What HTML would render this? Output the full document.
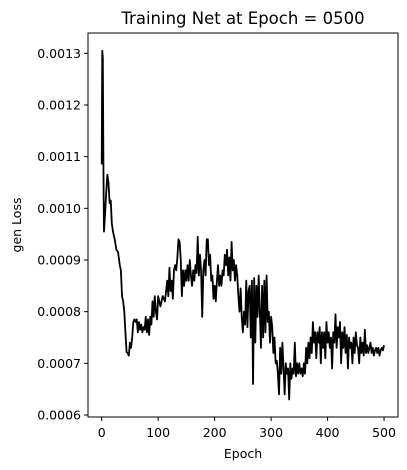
<!DOCTYPE html>
<html><head><meta charset="utf-8">
<style>
html,body{margin:0;padding:0;background:#fff;}
svg{display:block;font-family:"DejaVu Sans","Liberation Sans",sans-serif;}
</style></head>
<body>
<svg id="chart" width="407" height="470" viewBox="0 0 407 470">
<text x="243" y="24" text-anchor="middle" font-size="16.5">Training Net at Epoch = 0500</text>
<g id="ticks"></g>
<path id="line" fill="none" stroke="#000" stroke-width="1.8" stroke-linejoin="round"></path>
<rect x="88" y="33" width="310" height="384" fill="none" stroke="#000" stroke-width="1"></rect>
<text x="243" y="458" text-anchor="middle" font-size="12.5">Epoch</text>
<text transform="translate(21,225) rotate(-90)" text-anchor="middle" font-size="12.5">gen Loss</text>
</svg>
<script>
const epochs=[0,1,2,3,4,6,8,10,12,14,16,18,20,23,26,29,32,34,36,38,40,42,44,46,48,50,52,54,56,58,60,62,64,66,68,70,72,74,76,78,80,82,84,86,88,90,92,94,96,98,100,104,108,112,116,118,120,122,124,126,128,130,132,134,136,138,140,142,144,146,148,150,152,154,156,158,160,162,164,166,168,170,172,174,176,178,180,182,184,186,188,190,192,194,196,198,200,202,204,206,208,210,212,214,216,218,220,222,224,226,228,230,232,234,236,238,240,242,244,246,248,250,252,254,256,258,260,262,264,266,268,270,272,274,276,278,280,282,284,286,288,290,292,294,296,298,300,302,304,306,308,310,312,314,316,318,320,322,324,326,328,330,332,334,336,338,340,342,344,346,348,350,352,354,356,358,360,362,364,366,368,370,372,374,376,378,380,382,384,386,388,390,392,394,396,398,400,402,404,406,408,410,412,414,416,418,420,422,424,426,428,430,432,434,436,438,440,442,444,446,448,450,452,454,456,458,460,462,464,466,468,470,472,474,476,478,480,482,484,486,488,490,492,494,496,498,500];
const lossE4=[10.85,13.05,12.9,10.9,9.55,9.9,10.3,10.65,10.5,10.1,10.15,9.7,9.55,9.4,9.2,9.15,8.9,8.8,8.3,8.2,8.0,7.6,7.22,7.2,7.15,7.4,7.3,7.5,7.8,7.85,7.8,7.85,7.6,7.8,7.65,7.75,7.6,7.7,7.65,7.9,7.6,7.85,7.55,7.9,7.75,8.2,7.9,8.3,8.0,7.85,8.3,8.1,8.3,8.2,8.6,8.3,8.85,8.4,8.6,8.25,8.8,8.9,8.8,9.05,9.4,9.35,9.0,8.3,8.8,8.5,8.8,8.6,8.9,8.6,9.0,8.7,8.5,8.8,8.6,8.9,8.75,9.45,8.7,9.1,8.8,7.9,8.8,9.0,8.7,9.4,9.4,8.9,9.1,8.6,8.7,8.25,8.5,8.2,8.6,8.9,8.5,8.7,8.5,8.8,8.7,9.1,8.9,9.2,8.7,9.05,8.6,9.35,8.8,9.0,8.6,8.9,8.7,8.3,8.0,8.45,7.9,7.6,8.0,7.75,8.6,7.7,8.4,8.5,7.5,8.6,6.6,8.65,7.4,8.5,7.9,8.7,8.0,7.3,8.5,7.5,8.6,7.6,8.7,7.8,8.0,7.4,7.9,7.7,7.2,7.5,7.0,7.05,6.8,6.4,7.3,6.8,7.4,6.9,6.4,7.0,6.8,6.9,6.3,7.0,6.7,6.9,6.8,7.4,6.75,7.0,6.8,7.0,6.8,6.9,6.75,7.0,6.8,7.3,7.0,7.4,7.1,7.5,7.2,7.8,7.4,7.6,7.1,7.6,7.4,7.7,7.0,7.6,7.3,7.6,7.1,7.8,7.4,7.6,7.3,7.5,6.9,7.6,7.4,7.95,7.3,7.7,7.5,7.8,7.0,7.6,7.3,7.7,7.2,7.55,6.9,7.5,7.3,7.4,7.0,7.5,7.2,7.6,7.35,7.3,7.0,7.5,7.2,7.4,7.15,7.65,7.2,7.35,7.2,7.3,7.4,7.2,7.3,7.15,7.25,7.3,7.2,7.3,7.15,7.25,7.3,7.25,7.35];
const xTicks=[0,100,200,300,400,500];
const yTicks=[0.0006,0.0007,0.0008,0.0009,0.0010,0.0011,0.0012,0.0013];
const yTickLabels=["0.0006","0.0007","0.0008","0.0009","0.0010","0.0011","0.0012","0.0013"];

const NS="http://www.w3.org/2000/svg";
function xs(e){return 101.7+e*0.5647;}
function ys(v){return 415.0-(v-0.0006)/0.0001*51.67;}
const tg=document.getElementById('ticks');
xTicks.forEach(t=>{
  const l=document.createElementNS(NS,'line');
  l.setAttribute('x1',xs(t));l.setAttribute('x2',xs(t));l.setAttribute('y1',417);l.setAttribute('y2',421);l.setAttribute('stroke','#000');
  
  
  tg.appendChild(l);
  const tx=document.createElementNS(NS,'text');
  tx.setAttribute('x',xs(t));tx.setAttribute('y',437);tx.setAttribute('text-anchor','middle');tx.setAttribute('font-size','12.5');
  tx.textContent=t;
  
  
  tg.appendChild(tx);
});
yTicks.forEach((t,i)=>{
  const l=document.createElementNS(NS,'line');
  l.setAttribute('x1',84);l.setAttribute('x2',88);l.setAttribute('y1',ys(t));l.setAttribute('y2',ys(t));l.setAttribute('stroke','#000');
  
  
  tg.appendChild(l);
  const tx=document.createElementNS(NS,'text');
  tx.setAttribute('x',81);tx.setAttribute('y',ys(t)+4.5);tx.setAttribute('text-anchor','end');tx.setAttribute('font-size','12.5');
  tx.textContent=yTickLabels[i];
  
  
  tg.appendChild(tx);
});
let d='';
epochs.forEach((e,i)=>{d+=(i?'L':'M')+xs(e).toFixed(2)+','+ys(lossE4[i]*1e-4).toFixed(2);});
document.getElementById('line').setAttribute('d',d);
</script>
</body></html>
